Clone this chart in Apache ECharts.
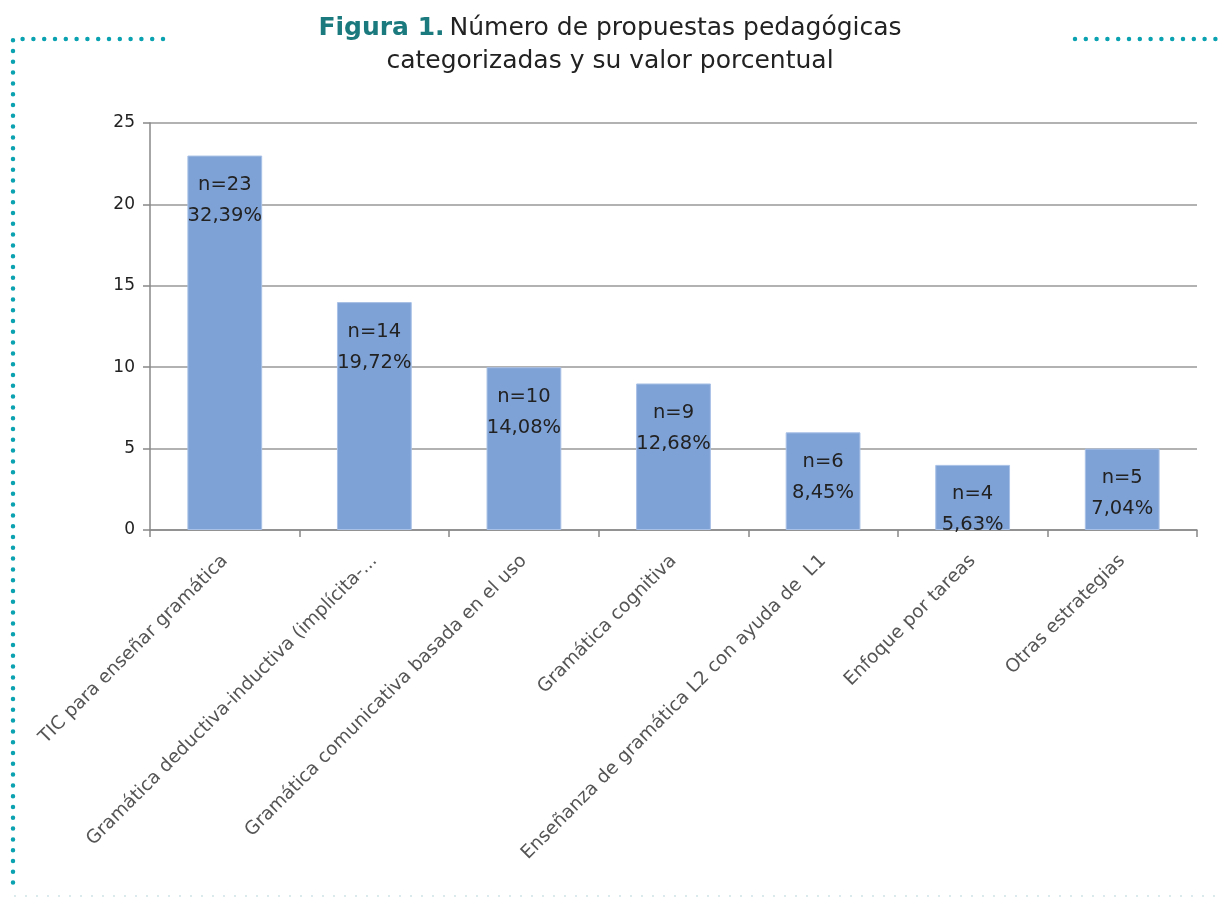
<!DOCTYPE html>
<html><head><meta charset="utf-8">
<script src="https://cdn.jsdelivr.net/npm/echarts@6/dist/echarts.min.js"></script>
<style>html,body{margin:0;padding:0;background:#fff}#c{width:1220px;height:901px}</style>
</head><body><div id="c"></div>
<script>
const categories = ["TIC para enseñar gramática","Gramática deductiva-inductiva (implícita-...","Gramática comunicativa basada en el uso","Gramática cognitiva","Enseñanza de gramática L2 con ayuda de  L1","Enfoque por tareas","Otras estrategias"];
const counts = [23, 14, 10, 9, 6, 4, 5];
const percents = ["32,39%","19,72%","14,08%","12,68%","8,45%","5,63%","7,04%"];
const yTicks = [0, 5, 10, 15, 20, 25];

const chart = echarts.init(document.getElementById('c'));
const teal = '#0aa1b1';
chart.setOption({
  animation: false,
  title: {
    left: 'center', top: 7,
    text: '{b|Figura 1.} {n|Número de propuestas pedagógicas}\n{n|categorizadas y su valor porcentual}',
    textStyle: {
      fontWeight: 'normal',
      rich: {
        b: { fontFamily: 'DejaVu Sans', fontWeight: 'bold', fontSize: 25, color: '#1b7a7e', lineHeight: 33 },
        n: { fontFamily: 'DejaVu Sans', fontWeight: 'normal', fontSize: 25, color: '#222', lineHeight: 33 }
      }
    }
  },
  grid: { left: 150, right: 23, top: 123, bottom: 371, containLabel: false },
  xAxis: {
    type: 'category', data: categories,
    axisLine: { lineStyle: { color: '#888', width: 1.5 } },
    axisTick: { show: true, length: 7, lineStyle: { color: '#888', width: 1.5 } },
    axisLabel: { rotate: 45, interval: 0, margin: 28, fontFamily: 'DejaVu Sans', fontSize: 18.5, color: '#555' }
  },
  yAxis: {
    type: 'value', min: yTicks[0], max: yTicks[yTicks.length - 1], interval: 5,
    axisLine: { show: true, lineStyle: { color: '#888', width: 1.5 } },
    axisTick: { show: true, length: 7, lineStyle: { color: '#888', width: 1.5 } },
    splitLine: { lineStyle: { color: '#999', width: 1.5 } },
    axisLabel: { margin: 15, fontFamily: 'DejaVu Sans', fontSize: 17, color: '#222' }
  },
  series: [{
    type: 'bar', data: counts, barWidth: '50%',
    itemStyle: { color: '#7fa2d6', borderColor: '#a9c1e6', borderWidth: 1 },
    label: {
      show: true, position: 'insideTop', distance: 14,
      fontFamily: 'DejaVu Sans', fontSize: 19.5, color: '#222', lineHeight: 31,
      formatter: p => 'n=' + p.value + '\n' + percents[p.dataIndex]
    }
  }],
  graphic: [
    { type: 'polyline', silent: true, shape: { points: [[163, 39], [13, 39], [13, 893]] },
      style: { stroke: teal, lineWidth: 4.5, lineDash: [0, 10.8], lineCap: 'round', fill: null } },
    { type: 'polyline', silent: true, shape: { points: [[1075, 39], [1220, 39]] },
      style: { stroke: teal, lineWidth: 4.5, lineDash: [0, 10.8], lineCap: 'round', fill: null } },
    { type: 'polyline', silent: true, shape: { points: [[15, 896], [1220, 896]] },
      style: { stroke: '#cfe3e6', lineWidth: 2, lineDash: [0, 11], lineCap: 'round', fill: null } }
  ]
});
</script></body></html>
